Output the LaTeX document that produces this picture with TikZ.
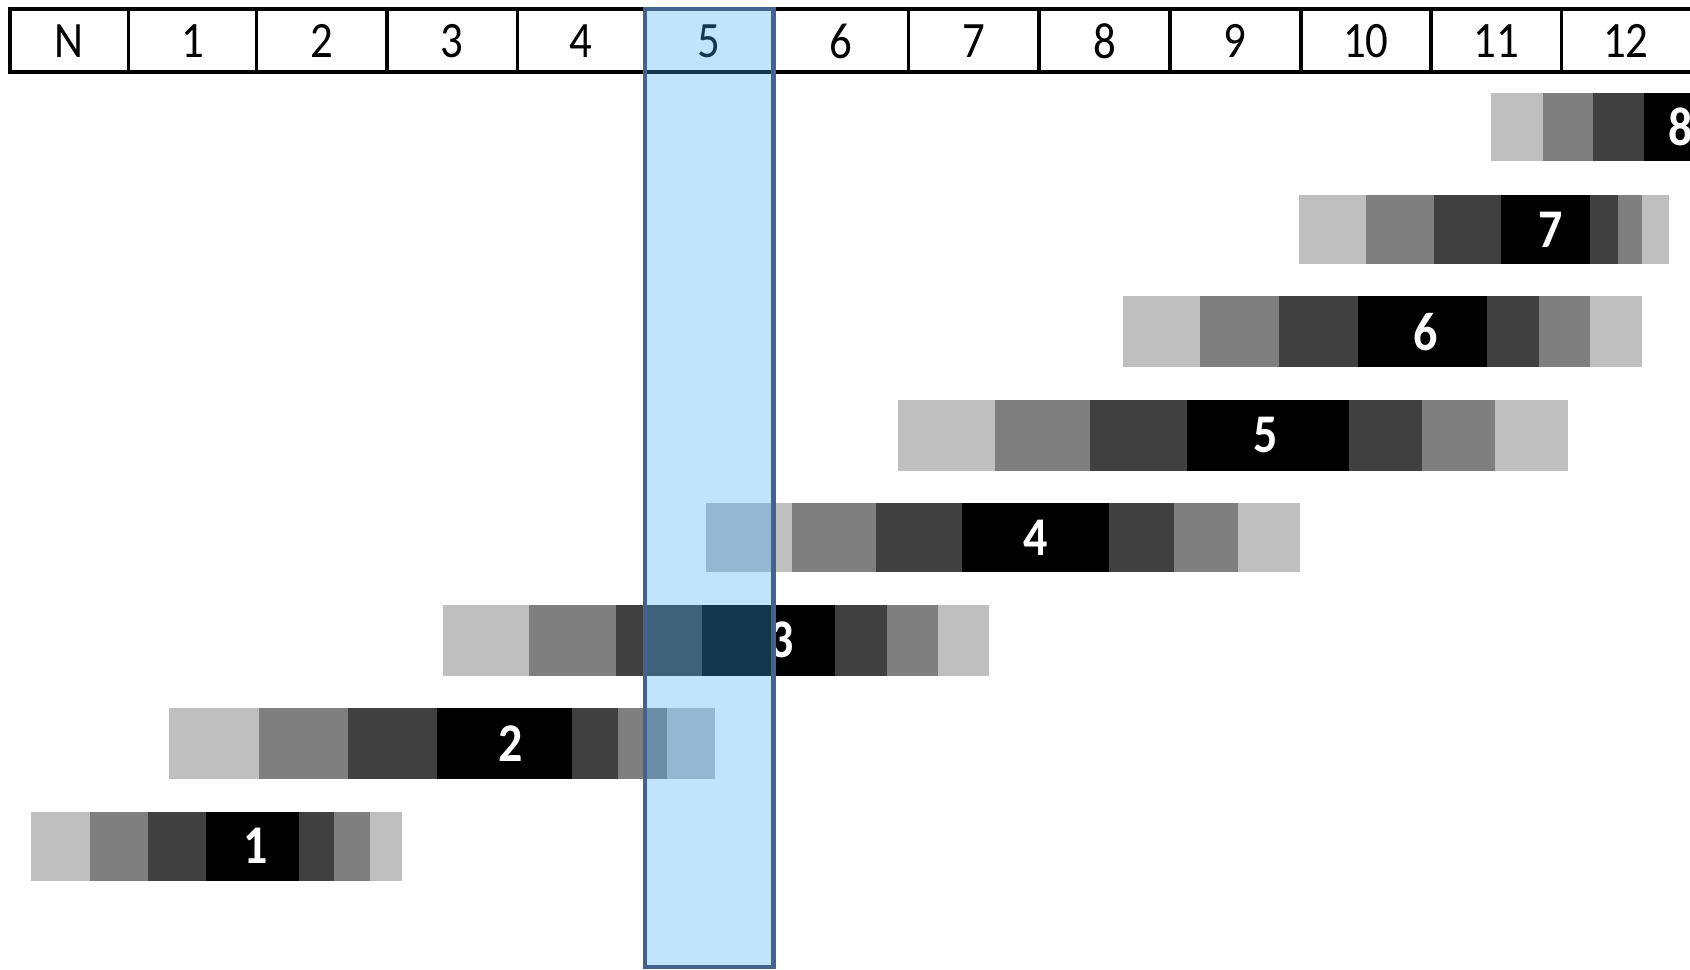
\documentclass[tikz,border=0pt]{standalone}
\usepackage{fontspec}
\setmainfont{Carlito}
\newfontfamily\hdrfont[FakeStretch=0.88]{Carlito}
\newfontfamily\barfont[FakeStretch=0.88]{Carlito Bold}
\definecolor{gA}{HTML}{BFBFBF}
\definecolor{gB}{HTML}{7F7F7F}
\definecolor{gC}{HTML}{404040}
\definecolor{colfill}{RGB}{59,172,247}
\definecolor{colline}{HTML}{41648F}
\tikzset{
  hdrtext/.style={inner sep=0pt, font=\hdrfont\fontsize{14.5}{16}\selectfont, text=black},
  bartext/.style={inner sep=0pt, font=\barfont\fontsize{15.5}{17}\selectfont, text=white},
  hdrline/.style={draw=black, line width=1pt},
  colbox/.style={draw=colline, line width=1.3pt},
}
\begin{document}
\begin{tikzpicture}[x=0.01cm,y=-0.01cm]
\useasboundingbox (0,0) rectangle (1690,970);
\clip (0,0) rectangle (1690,970);
% bars
\foreach \ya/\yb/\xa/\xb/\xc/\xd/\xe/\xf/\xg/\xh/\lx/\n in {
  811.6/880.6/31/90/147.5/206/299/334/369.5/401.5/256/1,
  708/779/169/258.5/347.5/437/572/618/666.5/715/511/2,
  604.6/675.8/443/529/615.5/701.5/834.5/886.5/937.5/988.5/782/3,
  503/572/705.5/791.5/875.5/962/1108.5/1173.5/1237.5/1300/1036/4,
  400/471/897.5/994.5/1090/1187/1348.5/1421.5/1495/1568/1266/5,
  296.4/367.5/1122.5/1200/1279/1357.5/1487/1538.5/1590/1641.5/1426/6,
  195/264/1298.5/1366/1433.5/1501/1590/1617.5/1641.5/1668.5/1551/7,
  92.7/160.6/1490.5/1542.5/1593/1644/1720/1740/1760/1780/1681/8}{
  \fill[gA] (\xa,\ya) rectangle (\xb,\yb);
  \fill[gB] (\xb,\ya) rectangle (\xc,\yb);
  \fill[gC] (\xc,\ya) rectangle (\xd,\yb);
  \fill[black] (\xd,\ya) rectangle (\xe,\yb);
  \fill[gC] (\xe,\ya) rectangle (\xf,\yb);
  \fill[gB] (\xf,\ya) rectangle (\xg,\yb);
  \fill[gA] (\xg,\ya) rectangle (\xh,\yb);
  \node[bartext] (bar\n) at (\lx,{(\ya+\yb)/2}) {\n};
}
% header
\fill[white] (10,9) rectangle (1720,72);
\foreach \lbl/\xl/\xr [count=\i] in {N/10/128.3, 1/128.3/256.5, 2/256.5/387, 3/387/517.3, 4/517.3/645, 5/645/773.5, 6/773.5/908.6, 7/908.6/1039, 8/1039/1169.8, 9/1169.8/1300.8, 10/1300.8/1431, 11/1431/1561.7, 12/1561.7/1690}{
  \draw[hdrline] (\xl,9) rectangle (\ifnum\i=13 1700\else\xr\fi,72);
  \node[hdrtext] (h\i) at ({(\xl+\xr)/2},41) {\lbl};
}
% highlighted column
\fill[colfill, fill opacity=0.32] (645,9) rectangle (773.5,967);
\draw[colbox] (645,9) rectangle (773.5,967);
\end{tikzpicture}
\end{document}
